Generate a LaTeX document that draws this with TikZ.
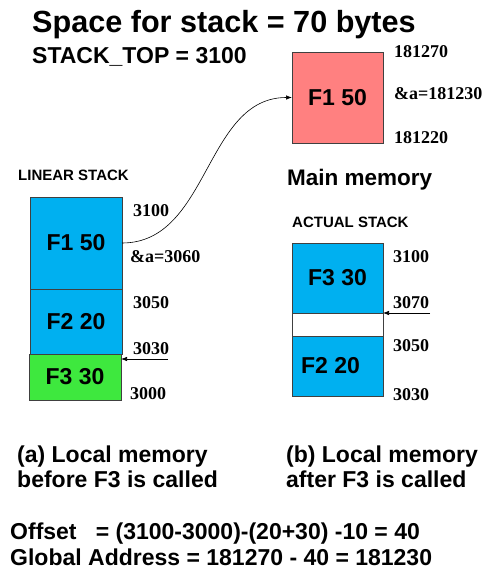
\documentclass[tikz,border=0pt]{standalone}
\usepackage{fontspec}
\setmainfont{Liberation Sans}
\newfontfamily\numfont{Liberation Serif}
\usetikzlibrary{arrows.meta}
\definecolor{memred}{HTML}{FF8080}
\definecolor{stackblue}{HTML}{00B0F0}
\definecolor{stackgreen}{HTML}{3EE83E}
\definecolor{edge}{HTML}{404040}
\tikzset{
  frame/.style={draw=edge, line width=0.9pt, inner sep=0pt, outer sep=0pt},
  boxtext/.style={font=\fontsize{23}{25}\selectfont\bfseries, inner sep=0pt},
  addr/.style={font=\numfont\fontsize{18}{20}\selectfont\bfseries, anchor=base west, inner sep=0pt},
  heading/.style={font=\fontsize{15}{17}\selectfont\bfseries, anchor=base west, inner sep=0pt},
  caption/.style={font=\fontsize{23}{26}\selectfont\bfseries, anchor=base west, inner sep=0pt},
  ptr/.style={-{Latex[length=6pt,width=4.5pt]}, line width=0.7pt, black},
}
\begin{document}
\begin{tikzpicture}[x=1pt,y=-1pt]
\useasboundingbox (0,0) rectangle (482,571);

% title lines
\node[font=\fontsize{30.6}{32}\selectfont\bfseries, anchor=base west, inner sep=0pt] (title) at (32,32) {Space for stack = 70 bytes};
\node[font=\fontsize{23}{25}\selectfont\bfseries, anchor=base west, inner sep=0pt] (top) at (32,63) {STACK\_TOP = 3100};

% main memory block
\node[frame, fill=memred, minimum width=91pt, minimum height=91pt] (mem) at (337.5,97.5) {};
\node[boxtext] (memtxt) at (mem.center) {F1 50};
\node[addr] (m1) at (394,57) {181270};
\node[addr] (m2) at (394,99) {\&a=181230};
\node[addr] (m3) at (394,143) {181220};
\node[font=\fontsize{22.5}{25}\selectfont\bfseries, anchor=base west, inner sep=0pt] (mainlbl) at (287,185) {Main memory};

% linear stack
\node[heading] (linlbl) at (18,180) {LINEAR STACK};
\node[frame, fill=stackblue, minimum width=92pt, minimum height=92pt] (lf1) at (76,243) {};
\node[boxtext] at (lf1.center) {F1 50};
\node[frame, fill=stackblue, minimum width=92pt, minimum height=65pt] (lf2) at (76,321.5) {};
\node[boxtext] at (lf2.center) {F2 20};
\node[frame, fill=stackgreen, minimum width=92pt, minimum height=46pt] (lf3) at (75,377) {};
\node[boxtext] at (lf3.center) {F3 30};
\node[addr] (l1) at (133,216) {3100};
\node[addr] (l2) at (130,262) {\&a=3060};
\node[addr] (l3) at (133,308) {3050};
\node[addr] (l4) at (133,354) {3030};
\node[addr] (l5) at (130,399) {3000};
\coordinate (lp) at (168,359);
\draw[ptr] (lp) -- (lf3.east |- lp);

% actual stack
\node[heading] (actlbl) at (292,227) {ACTUAL STACK};
\node[frame, fill=stackblue, minimum width=91pt, minimum height=70pt] (af3) at (337.5,278) {};
\node[boxtext] at (af3.center) {F3 30};
\node[frame, fill=white, minimum width=91pt, minimum height=23pt] (gap) at (337.5,324.5) {};
\node[frame, fill=stackblue, minimum width=91pt, minimum height=60pt] (af2) at (337.5,366) {};
\node[boxtext] at ([xshift=-7pt]af2.center) {F2 20};
\node[addr] (a1) at (393,262) {3100};
\node[addr] (a2) at (393,308) {3070};
\node[addr] (a3) at (393,351) {3050};
\node[addr] (a4) at (393,400) {3030};
\coordinate (ap) at (430,313);
\draw[ptr] (ap) -- (af3.east |- ap);

% link from the local frame to main memory
\draw[ptr, line width=0.6pt] (lf1.east) to[out=0, in=180] (mem.west);

% captions
\node[caption] (capa) at (17,462) {(a) Local memory};
\node[caption] (capa2) at (17,487) {before F3 is called};
\node[caption] (capb) at (286,462) {(b) Local memory};
\node[caption] (capb2) at (286,487) {after F3 is called};
\node[caption] (off) at (10,539) {Offset~~~= (3100-3000)-(20+30) -10 = 40};
\node[caption] (glob) at (10,565) {Global Address = 181270 - 40 = 181230};
\end{tikzpicture}
\end{document}
